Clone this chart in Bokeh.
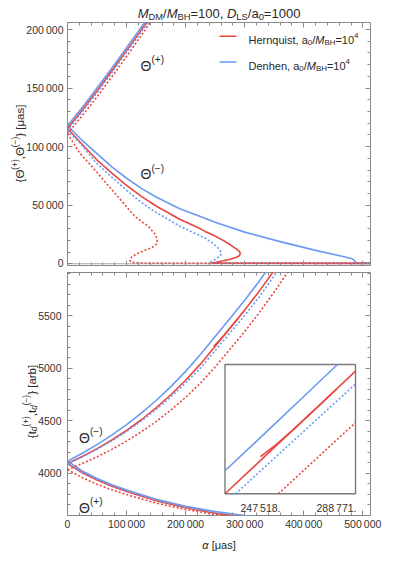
from bokeh.plotting import figure
from bokeh.models import (Range1d, LinearAxis, SingleIntervalTicker, Label, Span, Arrow,
                          CustomJSTickFormatter, GridBox)
from bokeh.layouts import column
from bokeh.embed import file_html
from bokeh.resources import INLINE

# ---------------- data ----------------
# top panel: image positions Theta(+) and Theta(-) [micro-arcsec] vs alpha [micro-arcsec]
top_p_alpha = [0, 25000, 50000, 75000, 100000, 125000, 150000]
top_p_blue = [118000, 133500, 150000, 167000, 184500, 202000, 220000]
top_p_red = [115500, 131000, 147500, 164500, 182000, 199500, 217500]
top_p_bdot = [114000, 130000, 146000, 163000, 180500, 198000, 216000]
top_p_rdot = [111000, 126500, 142500, 159500, 177000, 195000, 213500]

top_m_blue_alpha = [0, 25000, 50000, 75000, 100000, 125000, 150000, 190000, 225000, 250000, 300000,
                    360000, 420000, 470000, 482000, 486000, 488000, 490000, 513000]
top_m_blue = [118000, 105200, 94000, 82800, 73000, 64400, 57000, 46900, 40300, 35500, 27000,
              18900, 11400, 5800, 4200, 2800, 1200, 500, 450]
top_m_red_alpha = [0, 25000, 50000, 75000, 100000, 125000, 150000, 190000, 225000, 233000, 247000,
                   262000, 275000, 285000, 291000, 292500, 291000, 285000, 275000, 264000, 252000,
                   244000, 250000, 513000]
top_m_red = [115500, 101800, 88600, 77300, 67000, 57500, 49300, 38000, 29800, 27600, 24300,
             20400, 16400, 12900, 10500, 8800, 6800, 5300, 3900, 2500, 1300, 700, 400, 350]
top_m_bdot_alpha = [0, 25000, 46000, 75000, 100000, 125000, 150000, 191000, 215000, 233000, 245000,
                    254000, 259000, 260500, 259000, 254000, 248000, 243000, 241500, 250000, 513000]
top_m_bdot = [114000, 100900, 87500, 73900, 62700, 52400, 43800, 31900, 26100, 21900, 17800,
              14000, 10800, 8800, 6900, 5000, 3100, 1600, 700, 400, 350]
top_m_rdot_alpha = [0, 4000, 20000, 46000, 80000, 114000, 137000, 148000, 152000, 150500, 143000,
                    131000, 118000, 108000, 105800, 108000, 130000, 513000]
top_m_rdot = [111000, 108000, 95000, 80300, 60400, 40400, 31900, 25500, 21000, 16600, 13800,
              11500, 8800, 5500, 3000, 1200, 600, 500]

# bottom panel: time delays t_d(+), t_d(-) [arb]
bot_p_alpha = [0, 25000, 50000, 75000, 100000, 150000, 200000, 250000, 300000, 350000, 400000]
bot_p_blue = [4115, 4022, 3951, 3890, 3840, 3752, 3685, 3636, 3598, 3568, 3545]
bot_p_red = [4092, 4005, 3935, 3876, 3826, 3738, 3671, 3620, 3582, 3552, 3530]
bot_p_bdot = [4090, 4008, 3940, 3882, 3832, 3745, 3678, 3628, 3590, 3560, 3538]
bot_p_rdot = [4034, 3958, 3895, 3842, 3797, 3716, 3655, 3608, 3572, 3545, 3525]

bot_m_blue_alpha = [0, 25000, 50000, 75000, 100000, 125000, 150000, 175000, 200000, 225000, 250000,
                    275000, 300000, 325000, 335000]
bot_m_blue = [4115, 4190, 4272, 4362, 4462, 4572, 4692, 4824, 4969, 5129, 5300, 5473, 5646, 5830,
              5910]
bot_m_red_alpha = [0, 25000, 50000, 75000, 100000, 125000, 150000, 175000, 200000, 225000, 250000,
                   275000, 300000, 325000, 348000]
bot_m_red = [4092, 4160, 4234, 4316, 4407, 4509, 4622, 4747, 4885, 5038, 5209, 5380, 5552, 5735,
             5915]
bot_m_bdot_alpha = [0, 25000, 50000, 75000, 100000, 125000, 150000, 175000, 200000, 225000, 250000,
                    275000, 300000, 325000, 354000]
bot_m_bdot = [4090, 4156, 4228, 4308, 4397, 4496, 4606, 4727, 4859, 5000, 5167, 5334, 5501, 5680,
              5910]
bot_m_rdot_alpha = [0, 25000, 50000, 75000, 100000, 125000, 150000, 175000, 200000, 225000, 250000,
                    275000, 300000, 325000, 350000, 373000]
bot_m_rdot = [4034, 4092, 4156, 4227, 4306, 4394, 4492, 4601, 4722, 4857, 5011, 5180, 5348, 5530,
              5725, 5915]
bot_fold_alpha = [247518, 256000, 265000, 277000, 288771]
bot_fold_red = [5207, 5255, 5312, 5393, 5474]

# ticks
top_y_ticks = [0, 50000, 100000, 150000, 200000]
top_y_labels = ["0", "50\u2009000", "100\u2009000", "150\u2009000", "200\u2009000"]
bot_x_ticks = [0, 100000, 200000, 300000, 400000, 500000]
bot_x_labels = ["0", "100\u2009000", "200\u2009000", "300\u2009000", "400\u2009000", "500\u2009000"]
bot_y_ticks = [4000, 4500, 5000, 5500]
bot_y_labels = ["4000", "4500", "5000", "5500"]
inset_ticks = [247518, 288771]
inset_labels = ["247\u2009518.", "288\u2009771."]

# ranges
X_RANGE = (0, 513000)
TOP_Y = (-1500, 206000)
BOT_Y = (3598, 5910)
INSET_X = (228250, 299100)
INSET_Y = (5060, 5572)

# ---------------- style / layout ----------------
RED = "#E8463F"
BLUE = "#6B9AF0"
FRAME = "#8a8a8a"
TXT = "#2a2a2a"
TICKTXT = "#333333"
FONT = "Liberation Sans"
LW = 1.6
DOT = "2 2"

FW, FH = 303, 243
LEFT_B, RIGHT_B = 67, 20
TOP_T, TOP_B = 22, 3
BOT_T, BOT_B = 4, 45
TOTAL_W = LEFT_B + FW + RIGHT_B
TOTAL_H = TOP_T + FH + TOP_B + BOT_T + FH + BOT_B

W = {' ': .278, ',': .278, '.': .278, '/': .278, '=': .584, '+': .584, '\u2212': .584, '(': .333,
     ')': .333, '[': .278, ']': .278, '{': .334, '}': .334, 'a': .556, 'b': .556, 'd': .556,
     'e': .556, 'h': .556, 'i': .222, 'n': .556, 'q': .556, 'r': .333, 's': .5, 't': .278,
     'u': .556, 'B': .667, 'D': .722, 'H': .722, 'L': .556, 'M': .833, 'S': .667, '\u0398': .778,
     '\u03bc': .576, '\u03b1': .578, '\u2009': .2}


def tw(s, size):
    return sum(W.get(c, 0.556) for c in s) * size


# transparent overlay figure whose data coordinates are page pixels (for the texts)
over = figure(width=TOTAL_W, height=TOTAL_H, x_range=Range1d(0, TOTAL_W),
              y_range=Range1d(TOTAL_H, 0), min_border=0, x_axis_location=None,
              y_axis_location=None, toolbar_location=None, output_backend="svg",
              background_fill_color=None, border_fill_color=None, outline_line_color=None)
over.grid.visible = False


def rich(pieces, X, Y, size, angle=0.0, anchor="center", color=TXT, small=0.72):
    segs = []
    adv = 0.0
    for text, kind in pieces:
        sm = kind in ("sub", "sup", "isub")
        sz = size * small if sm else size
        shift = -0.24 * size if kind in ("sub", "isub") else (0.42 * size if kind == "sup" else 0.0)
        ital = kind in ("i", "isub")
        stripped = text.lstrip(" ")
        lead = tw(text[:len(text) - len(stripped)], sz)
        segs.append((stripped, sz, shift, ital, adv + lead))
        adv += tw(text, sz)
    start = -adv / 2 if anchor == "center" else 0.0
    for text, sz, shift, ital, off in segs:
        d = start + off
        if angle == 0:
            px, py = X + d, Y - shift
        else:
            px, py = X - shift, Y - d
        over.add_layout(Label(x=px, y=py, text=text, text_font=FONT,
                              text_font_size="%.2fpx" % sz,
                              text_font_style="italic" if ital else "normal",
                              text_color=color, text_align="left", text_baseline="alphabetic",
                              angle=angle, angle_units="rad"))


def style_axis(ax, interval, ticks=None, labels=None, standoff=4):
    ax.ticker = SingleIntervalTicker(interval=interval, num_minor_ticks=5)
    ax.axis_line_color = None
    ax.major_tick_line_color = FRAME
    ax.minor_tick_line_color = FRAME
    ax.major_tick_in = 5
    ax.major_tick_out = 0
    ax.minor_tick_in = 3
    ax.minor_tick_out = 0
    if labels is not None:
        ax.major_label_overrides = {t: l for t, l in zip(ticks, labels)}
        ax.major_label_text_font = FONT
        ax.major_label_text_font_size = "10.5px"
        ax.major_label_text_color = TICKTXT
        ax.major_label_standoff = standoff
    else:
        ax.formatter = CustomJSTickFormatter(code="return ''")
        ax.major_label_text_font_size = "1px"
        ax.major_label_standoff = 0


def make_fig(yr, border_top, border_bottom):
    p = figure(frame_width=FW, frame_height=FH, output_backend="svg", toolbar_location=None,
               x_range=Range1d(*X_RANGE), y_range=Range1d(*yr),
               min_border_left=LEFT_B, min_border_right=RIGHT_B,
               min_border_top=border_top, min_border_bottom=border_bottom)
    p.grid.visible = False
    p.outline_line_color = FRAME
    p.outline_line_width = 1
    p.background_fill_color = "white"
    p.border_fill_color = "white"
    return p


# ---------------- top panel ----------------
top = make_fig(TOP_Y, TOP_T, TOP_B)
style_axis(top.xaxis[0], 100000)
style_axis(top.yaxis[0], 50000, top_y_ticks, top_y_labels, standoff=4)
ax = LinearAxis()
style_axis(ax, 50000)
top.add_layout(ax, "right")
ax = LinearAxis()
style_axis(ax, 100000)
top.add_layout(ax, "above")

top.add_layout(Span(location=0, dimension="width", line_color="#a8a8a8", line_width=1,
                    level="underlay"))

for xs, ys, col, dash in [
    (top_p_alpha, top_p_blue, BLUE, "solid"), (top_m_blue_alpha, top_m_blue, BLUE, "solid"),
    (top_p_alpha, top_p_red, RED, "solid"), (top_m_red_alpha, top_m_red, RED, "solid"),
    (top_p_alpha, top_p_bdot, BLUE, DOT), (top_m_bdot_alpha, top_m_bdot, BLUE, DOT),
    (top_p_alpha, top_p_rdot, RED, DOT), (top_m_rdot_alpha, top_m_rdot, RED, DOT),
]:
    top.line(xs, ys, line_color=col, line_width=LW, line_dash=dash, line_join="round")

# ---------------- bottom panel ----------------
bot = make_fig(BOT_Y, BOT_T, BOT_B)
style_axis(bot.xaxis[0], 100000, bot_x_ticks, bot_x_labels, standoff=2)
style_axis(bot.yaxis[0], 500, bot_y_ticks, bot_y_labels, standoff=6)
ax = LinearAxis()
style_axis(ax, 500)
bot.add_layout(ax, "right")
ax = LinearAxis()
style_axis(ax, 100000)
bot.add_layout(ax, "above")

bot_curves = [
    (bot_p_alpha, bot_p_blue, BLUE, "solid"), (bot_m_blue_alpha, bot_m_blue, BLUE, "solid"),
    (bot_p_alpha, bot_p_red, RED, "solid"), (bot_m_red_alpha, bot_m_red, RED, "solid"),
    (bot_fold_alpha, bot_fold_red, RED, "solid"),
    (bot_p_alpha, bot_p_bdot, BLUE, DOT), (bot_m_bdot_alpha, bot_m_bdot, BLUE, DOT),
    (bot_p_alpha, bot_p_rdot, RED, DOT), (bot_m_rdot_alpha, bot_m_rdot, RED, DOT),
]
for xs, ys, col, dash in bot_curves:
    bot.line(xs, ys, line_color=col, line_width=LW, line_dash=dash, line_join="round")

# inset (same data, magnified window drawn in its own ranges)
IN_L, IN_R, IN_T, IN_B = 157.5, 288.0, 92.0, 221.3   # inset box inside the frame, px
kx = (INSET_X[1] - INSET_X[0]) / (IN_R - IN_L)
ky = (INSET_Y[1] - INSET_Y[0]) / (IN_B - IN_T)
bot.extra_x_ranges = {"ix": Range1d(INSET_X[0] - IN_L * kx, INSET_X[1] + (FW - IN_R) * kx)}
bot.extra_y_ranges = {"iy": Range1d(INSET_Y[0] - (FH - IN_B) * ky, INSET_Y[1] + IN_T * ky)}

bot.quad(left=[INSET_X[0]], right=[INSET_X[1]], bottom=[INSET_Y[0]], top=[INSET_Y[1]],
         fill_color="white", line_color="#7a7a7a", line_width=1.4,
         x_range_name="ix", y_range_name="iy")


def clip_polyline(xs, ys, x0, x1, y0, y1):
    out, cx, cy = [], [], []
    for i in range(len(xs) - 1):
        ax_, ay_, bx_, by_ = xs[i], ys[i], xs[i + 1], ys[i + 1]
        dx_, dy_ = bx_ - ax_, by_ - ay_
        t0, t1, ok = 0.0, 1.0, True
        for pp, qq in ((-dx_, ax_ - x0), (dx_, x1 - ax_), (-dy_, ay_ - y0), (dy_, y1 - ay_)):
            if pp == 0:
                if qq < 0:
                    ok = False
                    break
            else:
                r = qq / pp
                if pp < 0:
                    t0 = max(t0, r)
                else:
                    t1 = min(t1, r)
        if not ok or t0 > t1:
            if cx:
                out.append((cx, cy))
                cx, cy = [], []
            continue
        sx, sy = ax_ + t0 * dx_, ay_ + t0 * dy_
        ex, ey = ax_ + t1 * dx_, ay_ + t1 * dy_
        if not cx or abs(cx[-1] - sx) > 1e-6 or abs(cy[-1] - sy) > 1e-6:
            if cx:
                out.append((cx, cy))
            cx, cy = [sx], [sy]
        cx.append(ex)
        cy.append(ey)
    if cx:
        out.append((cx, cy))
    return out


for xs, ys, col, dash in bot_curves:
    parts = clip_polyline(xs, ys, INSET_X[0], INSET_X[1], INSET_Y[0], INSET_Y[1])
    if parts:
        bot.multi_line([p[0] for p in parts], [p[1] for p in parts], line_color=col,
                       line_width=LW, line_dash=dash, x_range_name="ix", y_range_name="iy")

# ---------------- texts (page-pixel overlay) ----------------
# title
rich([("M", "i"), ("DM", "sub"), ("/", "n"), ("M", "i"), ("BH", "sub"), ("=100, ", "n"),
      ("D", "i"), ("LS", "sub"), ("/a", "n"), ("0", "sub"), ("=1000", "n")], 218.5, 13.0, 13)
# legend
for yline, ybase, col, name in [(35.7, 39.3, RED, "Hernquist, a"), (61.5, 65.2, BLUE, "Denhen, a")]:
    over.add_layout(Arrow(end=None, x_start=219, y_start=yline, x_end=236, y_end=yline,
                          line_color=col, line_width=LW))
    rich([(name, "n"), ("0", "sub"), ("/", "n"), ("M", "i"), ("BH", "sub"), ("=10", "n"),
          ("4", "sup")], 248, ybase, 11, anchor="left")
# curve labels
rich([("\u0398", "n"), ("(+)", "sup")], 140, 65, 14, anchor="left", small=0.72)
rich([("\u0398", "n"), ("(\u2212)", "sup")], 140, 173.5, 14, anchor="left", small=0.72)
rich([("\u0398", "n"), ("(\u2212)", "sup")], 78.5, 437, 14, anchor="left", small=0.72)
rich([("\u0398", "n"), ("(+)", "sup")], 78.5, 507, 14, anchor="left", small=0.72)
# inset tick labels
for t, lab in zip(inset_ticks, inset_labels):
    X = LEFT_B + IN_L + (t - INSET_X[0]) / kx
    rich([(lab, "n")], X, 507, 10.5, color=TICKTXT)
# axis labels
rich([("{\u0398", "n"), ("(+)", "sup"), (",\u0398", "n"), ("(\u2212)", "sup"),
      ("} [\u03bcas]", "n")], 19.5, 143, 11.5, angle=1.5707963)
rich([("{t", "n"), ("d", "isub"), ("(+)", "sup"), (",t", "n"), ("d", "isub"),
      ("(\u2212)", "sup"), ("} [arb]", "n")], 31, 401, 11.5, angle=1.5707963)
rich([("\u03b1", "i"), (" [\u03bcas]", "n")], 218.5, 544.5, 11)

plots = column(top, bot)
page = GridBox(children=[(plots, 0, 0), (over, 0, 0)])
open("out.html", "w").write(file_html(page, INLINE))
